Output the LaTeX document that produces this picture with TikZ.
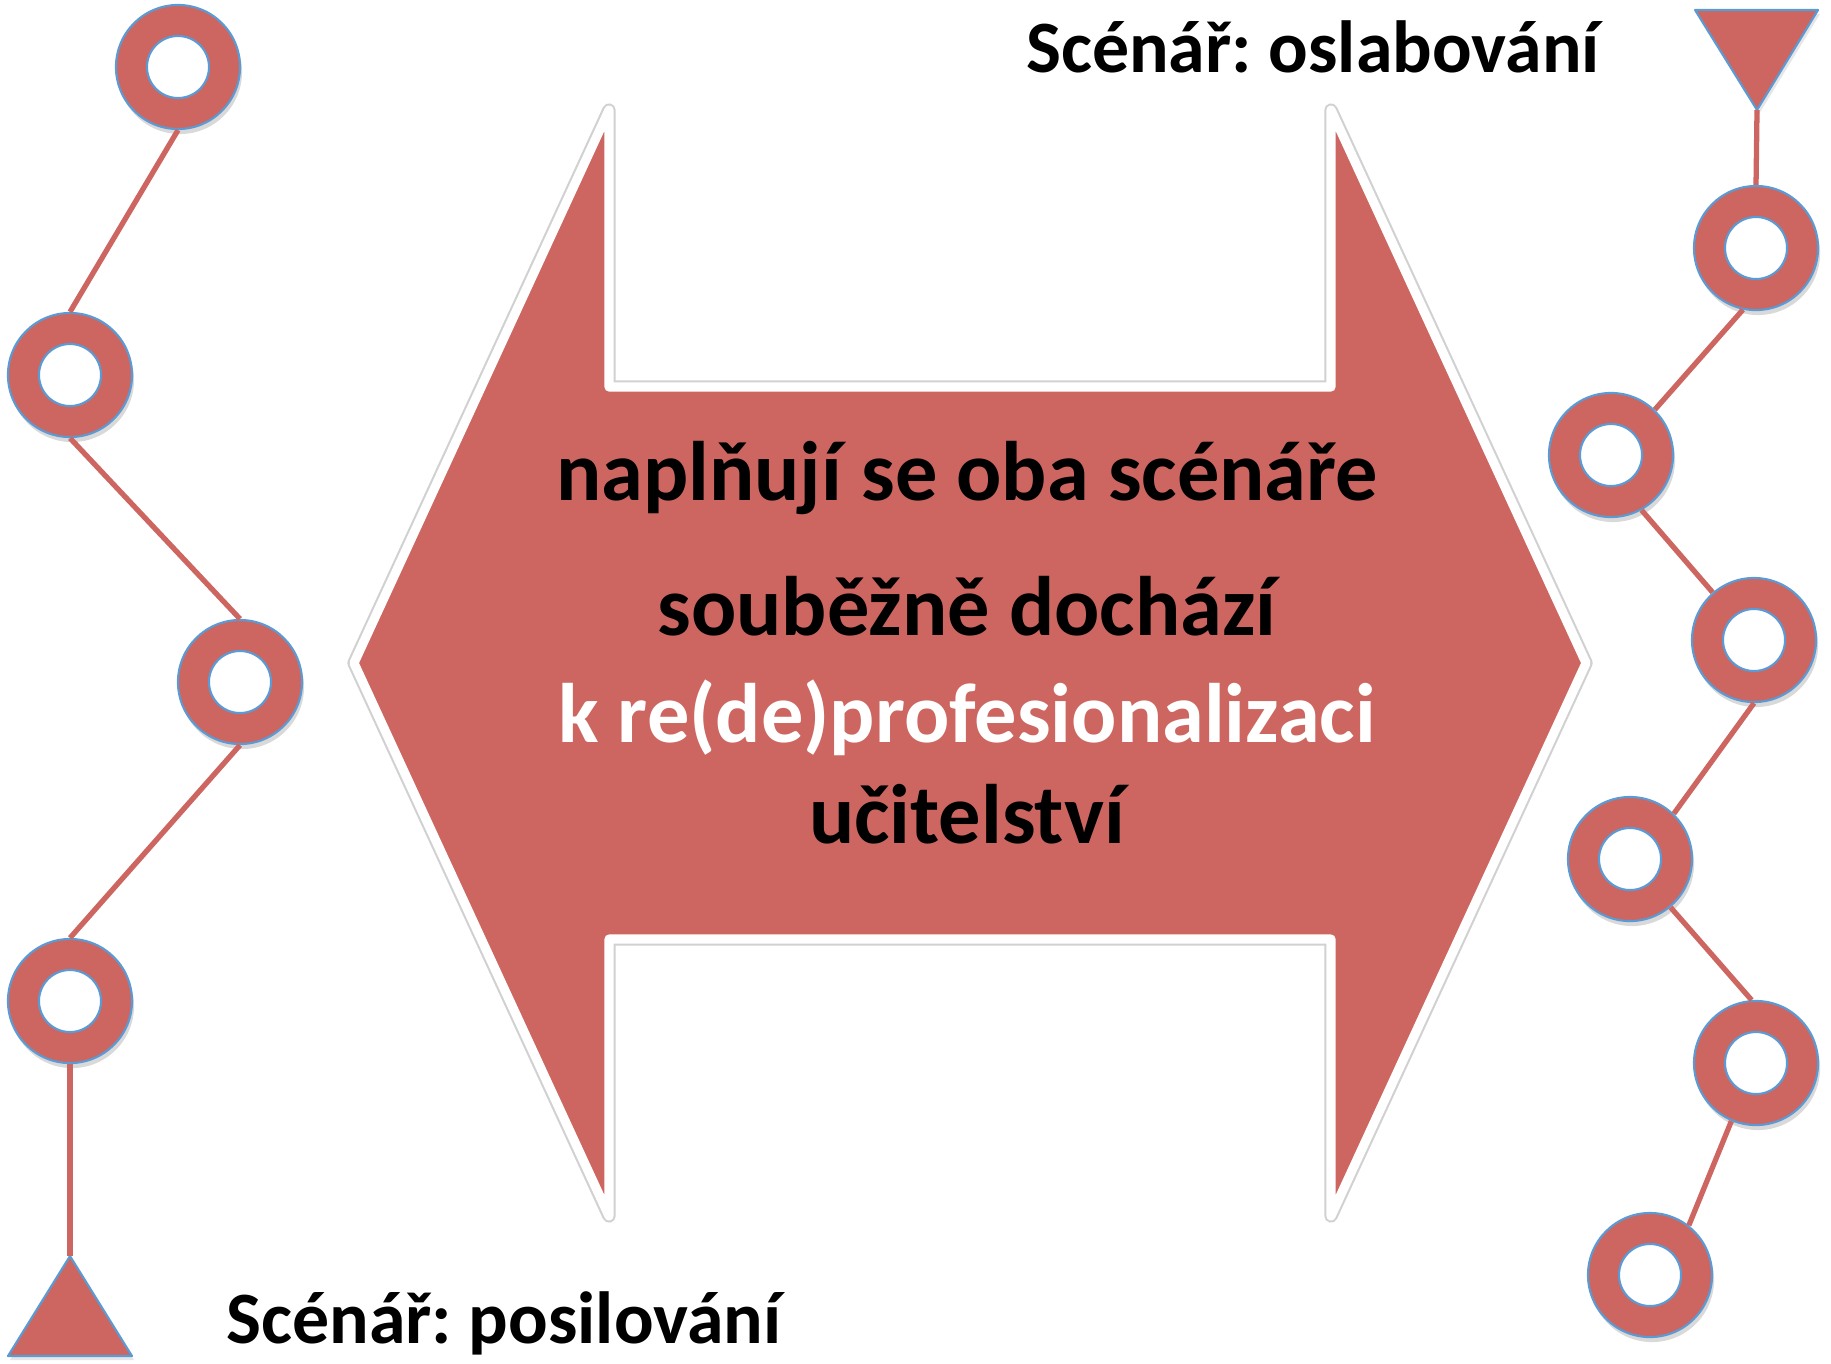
\documentclass[tikz,border=0pt]{standalone}
\usepackage{fontspec}
\setmainfont{Carlito}
\usepackage{tikz}
\usetikzlibrary{shadows}
\definecolor{brick}{RGB}{205,102,96}
\definecolor{edgeblue}{RGB}{91,155,213}
\frenchspacing

\begin{document}
\begin{tikzpicture}[x=0.01cm,y=-0.01cm,
  ring/.style={circle,inner sep=0pt,minimum size=1.24cm,fill=brick,draw=edgeblue,line width=0.6pt,
    drop shadow={opacity=0.3,shadow xshift=0.02cm,shadow yshift=-0.05cm},
    path picture={\draw[edgeblue,line width=0.6pt,fill=white] (path picture bounding box.center) circle (0.31cm);}},
  link/.style={brick,line width=1.5pt},
  tri/.style={fill=brick,draw=edgeblue,line width=0.6pt,line join=round,
    drop shadow={opacity=0.2,shadow xshift=0.02cm,shadow yshift=-0.04cm}},
  dbl/.style={fill=brick,draw=white,line width=2.6pt,line join=round,preaction={draw=black!18,line width=3.8pt,line join=round}},
  big/.style={font=\fontsize{24}{28}\selectfont\bfseries,anchor=base},
  lab/.style={font=\fontsize{21}{25}\selectfont\bfseries,anchor=base}]
 \useasboundingbox (0,0) rectangle (1831,1363);
 % double arrow
 \path[dbl] (354,663) -- (609,110) -- (609,387) -- (1331,387) -- (1331,110) -- (1586,663)
   -- (1331,1216) -- (1331,939) -- (609,939) -- (609,1216) -- cycle;
 \node[big] (t1) at (967,500) {naplňují se oba scénáře};
 \node[big] (t2) at (967,635) {souběžně dochází};
 \node[big,text=white] (t3) at (967,742) {k re(de)profesionalizaci};
 \node[big] (t4) at (967,843) {učitelství};
 % posilovani (left)
 \node[ring] (l1) at (178,67) {};
 \node[ring] (l2) at (70,375) {};
 \node[ring] (l3) at (240,682) {};
 \node[ring] (l4) at (70,1001) {};
 \coordinate (lt) at (70,1256);
 \draw[tri] (lt) -- (132,1356) -- (8,1356) -- cycle;
 \draw[link] (l1.south) -- (l2.north);
 \draw[link] (l2.south) -- (l3.north);
 \draw[link] (l3.south) -- (l4.north);
 \draw[link] (l4.south) -- (lt);
 \node[lab] (strong) at (504,1343) {Scénář: posilování};
 % oslabovani (right)
 \coordinate (rt) at (1757,110);
 \draw[tri] (1695,10) -- (1818,10) -- (rt) -- cycle;
 \node[ring] (r1) at (1756,248) {};
 \node[ring] (r2) at (1611,455) {};
 \node[ring] (r3) at (1754,640) {};
 \node[ring] (r4) at (1630,859) {};
 \node[ring] (r5) at (1756,1063) {};
 \node[ring] (r6) at (1650,1275) {};
 \draw[link] (rt) -- (r1.north);
 \draw[link] (r1.-102) -- (r2.46);
 \draw[link] (r2.-61) -- (r3.131);
 \draw[link] (r3.south) -- (r4.46);
 \draw[link] (r4.-50) -- (r5.94);
 \draw[link] (r5.-113) -- (r6.52);
 \node[lab] (weak) at (1313,72) {Scénář: oslabování};
\end{tikzpicture}
\end{document}
